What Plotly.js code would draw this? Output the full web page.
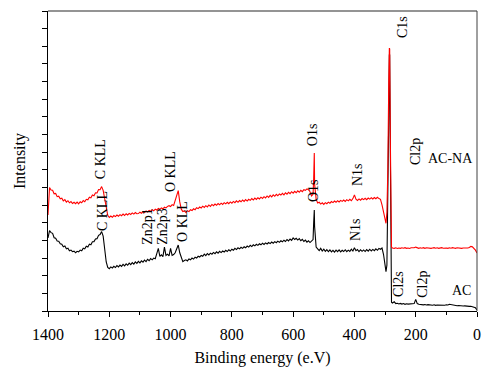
<!DOCTYPE html>
<html>
<head>
<meta charset="utf-8">
<script src="https://cdn.plot.ly/plotly-3.0.1.min.js"></script>
<style>html,body{margin:0;padding:0;background:#fff;}#chart{width:500px;height:373px;}</style>
</head>
<body>
<div id="chart"></div>
<script>
// Binding energy (eV)
const energy = [
1400,1398,1395,1390,1385,1380,1375,1370,1365,1360,
1355,1350,1345,1340,1335,1330,1325,1320,1315,1310,
1305,1300,1295,1290,1285,1280,1275,1270,1265,1260,
1255,1250,1245,1240,1235,1230,1225,1220,1215,1210,
1205,1200,1195,1190,1185,1180,1175,1170,1165,1160,
1155,1150,1145,1140,1135,1130,1125,1120,1115,1110,
1105,1100,1095,1090,1085,1080,1075,1070,1065,1060,
1055,1050,1045,1040,1035,1030,1025,1020,1015,1010,
1005,1000,995,990,985,980,975,970,965,960,
955,950,945,940,935,930,925,920,915,910,
905,900,895,890,885,880,875,870,865,860,
855,850,845,840,835,830,825,820,815,810,
805,800,795,790,785,780,775,770,765,760,
755,750,745,740,735,730,725,720,715,710,
705,700,695,690,685,680,675,670,665,660,
655,650,645,640,635,630,625,620,615,610,
605,600,595,590,585,580,575,570,565,560,
555,550,545,540,535,533,531,530,525,520,
515,510,505,500,495,490,485,480,475,470,
465,460,455,450,445,440,435,430,425,420,
415,410,405,400,395,390,385,380,375,370,
365,360,355,350,345,340,335,330,325,320,
315,310,305,300,297,294,291,288,286,285,
283,281,279,276,270,265,260,255,250,245,
240,235,230,225,220,215,210,205,200,195,
190,185,180,175,170,165,160,155,150,145,
140,135,130,125,120,115,110,105,100,95,
90,85,80,75,70,65,60,55,50,45,
40,35,30,25,20,15,10,5,0
];

// AC-NA spectrum (red), arbitrary intensity units
const acNA = [
5.44,6.60,6.99,6.86,6.84,6.64,6.66,6.48,6.51,6.36,
6.39,6.24,6.31,6.17,6.25,6.13,6.20,6.09,6.16,6.08,
6.17,6.07,6.19,6.13,6.26,6.19,6.33,6.30,6.45,6.41,
6.57,6.53,6.70,6.69,6.88,6.87,7.05,6.84,6.30,5.74,
5.42,5.30,5.38,5.31,5.41,5.35,5.44,5.37,5.46,5.40,
5.49,5.41,5.51,5.44,5.53,5.47,5.56,5.49,5.58,5.51,
5.52,5.60,5.54,5.63,5.58,5.67,5.61,5.70,5.65,5.74,
5.68,5.77,5.72,5.81,5.76,5.84,5.79,5.88,5.84,5.93,
5.97,5.92,6.03,5.98,6.22,6.52,6.82,6.18,5.77,5.64,
5.67,5.58,5.68,5.63,5.74,5.69,5.79,5.74,5.85,5.80,
5.89,5.84,5.94,5.87,5.97,5.90,6.01,5.93,6.04,5.97,
6.06,5.99,6.09,6.02,6.11,6.04,6.14,6.07,6.16,6.08,
6.18,6.11,6.21,6.14,6.24,6.16,6.26,6.19,6.29,6.21,
6.31,6.23,6.33,6.27,6.37,6.29,6.40,6.32,6.42,6.35,
6.45,6.38,6.48,6.41,6.52,6.44,6.55,6.47,6.58,6.50,
6.61,6.53,6.63,6.57,6.67,6.58,6.70,6.62,6.73,6.65,
6.76,6.68,6.78,6.70,6.81,6.73,6.84,6.76,6.87,6.84,
6.92,6.87,6.76,6.52,6.62,7.50,8.95,7.20,6.34,6.12,
6.16,6.06,6.13,6.04,6.14,6.08,6.17,6.11,6.20,6.14,
6.23,6.16,6.25,6.18,6.27,6.21,6.29,6.21,6.31,6.24,
6.33,6.25,6.37,6.58,6.33,6.26,6.35,6.28,6.37,6.31,
6.39,6.31,6.40,6.34,6.42,6.35,6.43,6.36,6.44,6.37,
6.33,6.02,5.62,5.15,4.97,5.60,8.00,13.00,14.90,14.85,
10.00,5.00,3.62,3.57,3.55,3.58,3.54,3.57,3.55,3.58,
3.56,3.59,3.55,3.57,3.54,3.58,3.56,3.58,3.62,3.57,
3.55,3.58,3.56,3.59,3.55,3.58,3.56,3.58,3.55,3.57,
3.59,3.56,3.58,3.55,3.57,3.59,3.56,3.58,3.57,3.55,
3.58,3.56,3.59,3.57,3.55,3.58,3.56,3.58,3.55,3.57,
3.56,3.58,3.57,3.60,3.66,3.64,3.55,3.45,3.29
];

// AC spectrum (black), arbitrary intensity units
const ac = [
4.14,4.45,4.55,4.44,4.40,4.15,4.12,3.97,3.95,3.81,
3.78,3.64,3.68,3.52,3.56,3.41,3.45,3.36,3.39,3.30,
3.38,3.35,3.45,3.41,3.56,3.52,3.67,3.63,3.79,3.75,
3.92,3.93,4.08,4.10,4.29,4.33,4.50,4.24,3.46,2.78,
2.47,2.40,2.50,2.44,2.53,2.46,2.57,2.50,2.60,2.53,
2.64,2.56,2.67,2.59,2.71,2.63,2.74,2.66,2.78,2.70,
2.81,2.73,2.84,2.77,2.89,2.80,2.93,2.85,2.97,2.90,
3.00,2.96,3.25,3.55,3.10,3.18,3.08,3.62,3.15,3.22,
3.12,3.55,3.15,3.20,3.30,3.55,3.74,3.30,3.00,2.80,
2.86,2.90,2.84,2.95,2.90,3.00,2.94,3.05,3.00,3.10,
3.06,3.15,3.10,3.22,3.14,3.26,3.18,3.28,3.22,3.32,
3.25,3.35,3.28,3.38,3.31,3.40,3.34,3.44,3.37,3.47,
3.40,3.50,3.44,3.55,3.48,3.58,3.52,3.61,3.55,3.64,
3.58,3.68,3.62,3.72,3.65,3.75,3.69,3.78,3.72,3.81,
3.75,3.84,3.77,3.86,3.80,3.88,3.82,3.91,3.84,3.93,
3.87,3.96,3.89,3.98,3.92,4.01,3.94,4.05,3.97,4.08,
4.00,4.14,4.05,4.12,4.02,4.10,3.98,4.06,3.94,4.02,
3.90,3.98,3.88,3.96,4.05,5.00,5.72,4.80,3.62,3.52,
3.42,3.55,3.40,3.50,3.38,3.48,3.36,3.46,3.35,3.44,
3.34,3.45,3.36,3.46,3.35,3.44,3.37,3.47,3.36,3.45,
3.38,3.50,3.40,3.58,3.42,3.48,3.36,3.47,3.38,3.46,
3.37,3.48,3.39,3.50,3.40,3.49,3.42,3.52,3.44,3.55,
3.50,3.57,3.20,2.60,2.23,2.60,6.00,11.00,14.50,14.50,
9.50,2.00,0.50,0.45,0.52,0.42,0.44,0.40,0.43,0.39,
0.42,0.38,0.41,0.39,0.40,0.37,0.41,0.42,0.66,0.42,
0.38,0.36,0.38,0.35,0.37,0.34,0.36,0.34,0.35,0.33,
0.35,0.32,0.34,0.33,0.35,0.32,0.34,0.33,0.35,0.34,
0.38,0.36,0.33,0.31,0.32,0.30,0.31,0.29,0.30,0.28,
0.29,0.27,0.28,0.26,0.27,0.25,0.24,0.18,0.06
];

// Peak labels
const vLabels  = ["C KLL","C KLL","O KLL","Zn2p1","Zn2p3","O KLL","O1s","O1s","N1s","N1s","C1s","Cl2p","Cl2s","Cl2p"];
const vLabelE  = [1230,1220,1002,1074,1025,963,538,535,388,398,245,202,258,180];
const vLabelY  = [8.61,5.67,7.93,4.82,4.82,5.10,9.97,6.80,7.71,4.59,16.09,9.01,1.53,1.53];
const seriesNames = ["AC-NA","AC"];
const seriesLabelE = [88,49];
const seriesLabelY = [8.67,1.19];

const serif = "'Liberation Serif', 'Times New Roman', serif";

const traces = [
  {x: energy, y: ac, type: "scatter", mode: "lines", name: seriesNames[1],
   line: {color: "#000000", width: 1.1}},
  {x: energy, y: acNA, type: "scatter", mode: "lines", name: seriesNames[0],
   line: {color: "#ff0000", width: 1.1}}
];

const annotations = [];
for (let i = 0; i < vLabels.length; i++) {
  annotations.push({x: vLabelE[i], y: vLabelY[i], xref: "x", yref: "y", text: vLabels[i],
    showarrow: false, textangle: -90, font: {family: serif, size: 14, color: "#000"}});
}
for (let i = 0; i < seriesNames.length; i++) {
  annotations.push({x: seriesLabelE[i], y: seriesLabelY[i], xref: "x", yref: "y", text: seriesNames[i],
    showarrow: false, font: {family: serif, size: 14, color: "#000"}});
}

const layout = {
  width: 500, height: 373,
  margin: {l: 48, r: 23, t: 11, b: 62, pad: 0},
  paper_bgcolor: "#fff", plot_bgcolor: "#fff",
  showlegend: false,
  font: {family: serif, color: "#000"},
  xaxis: {
    range: [1400, 0], tickmode: "array", tickvals: [1400,1200,1000,800,600,400,200,0],
    ticks: "outside", ticklen: 5, tickwidth: 1, tickcolor: "#000",
    ticklabelstandoff: 4,
    minor: {dtick: 100, ticks: "outside", ticklen: 3, tickcolor: "#000", showgrid: false},
    showline: true, linecolor: "#000", linewidth: 1, showgrid: false, zeroline: false,
    tickfont: {family: serif, size: 16, color: "#000"},
    title: {text: "Binding energy (e.V)", font: {family: serif, size: 16, color: "#000"}, standoff: 9}
  },
  yaxis: {
    range: [0, 17], dtick: 1, tick0: 0,
    ticks: "outside", ticklen: 5, tickwidth: 1, tickcolor: "#000",
    showticklabels: false,
    showline: true, linecolor: "#000", linewidth: 1, showgrid: false, zeroline: false,
    title: {text: "Intensity", font: {family: serif, size: 16, color: "#000"}, standoff: 12}
  },
  shapes: [
    {type: "line", xref: "paper", yref: "paper", x0: 0, x1: 1, y0: 1, y1: 1, line: {color: "#707070", width: 1.5}},
    {type: "line", xref: "paper", yref: "paper", x0: 1, x1: 1, y0: 0, y1: 1, line: {color: "#404040", width: 1}}
  ],
  annotations: annotations
};

Plotly.newPlot("chart", traces, layout, {displayModeBar: false, staticPlot: true});
</script>
</body>
</html>
